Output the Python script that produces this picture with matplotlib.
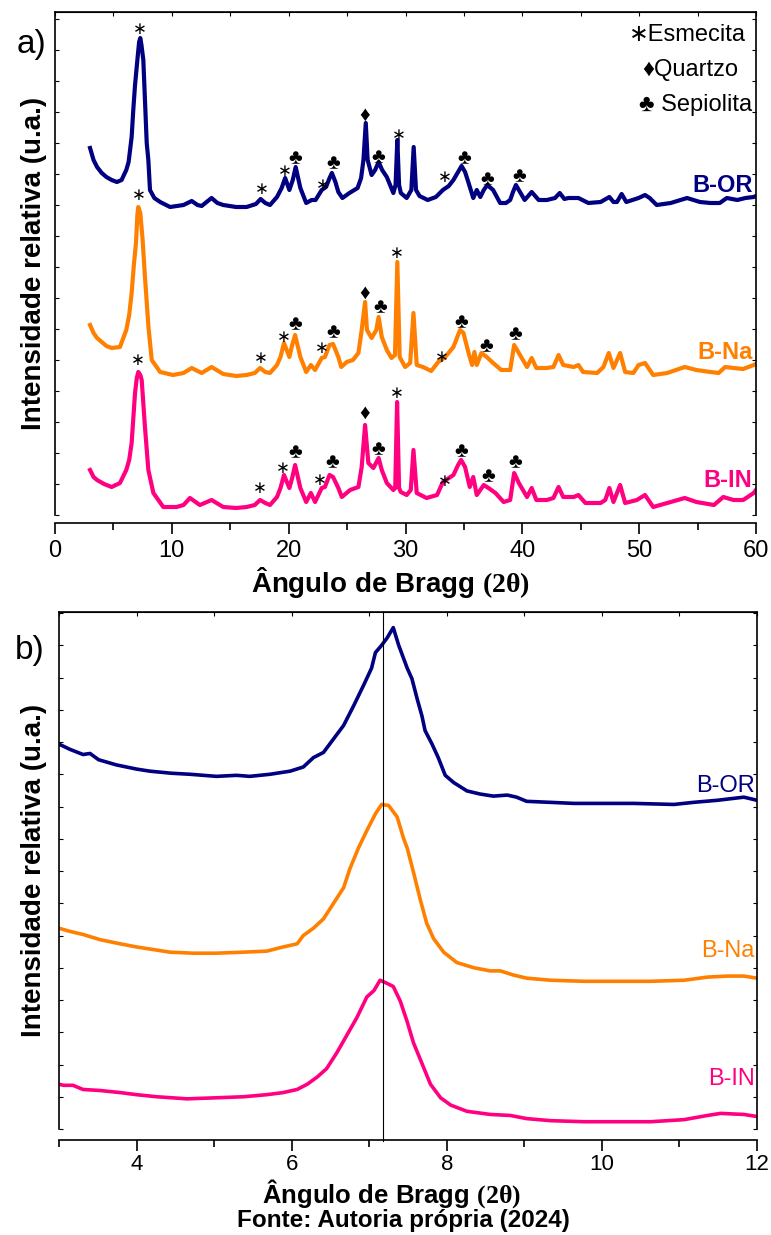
import matplotlib
matplotlib.use("Agg")
import matplotlib.pyplot as plt
from matplotlib.ticker import MultipleLocator

plt.rcParams['font.family'] = ['Liberation Sans', 'DejaVu Sans']
plt.rcParams['mathtext.fontset'] = 'custom'
plt.rcParams['mathtext.bf'] = 'Liberation Serif:bold'
plt.rcParams['mathtext.rm'] = 'Liberation Serif'

# ---------------- panel a) full scan, 3-60 deg ----------------
or_x = [3.0, 3.3, 3.6, 4.0, 4.4, 4.85, 5.3, 5.7, 6.1, 6.3, 6.56, 6.7, 6.85, 7.05, 7.2, 7.3, 7.4, 7.56, 7.7, 7.85,
        7.99, 8.13, 8.5, 9.0, 9.85, 11.0, 11.7, 12.2, 12.55, 13.4, 13.9, 14.4, 15.5, 16.4, 17.2, 17.6, 18.0, 18.4,
        19.0, 19.4, 19.7, 20.06, 20.35, 20.6, 21.0, 21.5, 21.97, 22.3, 22.83, 23.2, 23.5, 23.7, 24.0, 24.25, 24.6,
        25.2, 25.9, 26.2, 26.4, 26.6, 26.76, 27.1, 27.4, 27.7, 28.0, 28.4, 28.96, 29.15, 29.3, 29.45, 29.6, 30.1,
        30.5, 30.7, 30.9, 31.2, 31.9, 32.6, 33.2, 33.7, 34.1, 34.5, 34.8, 35.1, 35.4, 35.8, 36.1, 36.4, 36.7, 37.0,
        37.5, 38.1, 38.6, 38.96, 39.2, 39.45, 39.8, 40.2, 40.8, 41.4, 42.1, 42.8, 43.2, 43.6, 43.95, 44.8, 45.65,
        46.7, 47.45, 47.8, 48.1, 48.5, 48.9, 49.95, 50.5, 50.9, 51.5, 52.7, 54.1, 55.2, 56.1, 56.9, 57.5, 58.4,
        59.1, 59.8, 60.0]
or_y = [367, 355, 348, 342, 338, 335, 333, 335, 345, 353, 378, 405, 430, 455, 473, 477, 470, 455, 415, 372,
        355, 325, 317, 313, 308, 310, 314, 310, 309, 317, 312, 310, 308, 308, 311, 316, 312, 310,
        318, 327, 337, 325, 335, 348, 327, 312, 315, 315, 325, 328, 337, 342, 333, 323, 317,
        322, 327, 337, 355, 392, 355, 340, 345, 353, 345, 338, 322, 330, 375, 330, 322, 317,
        325, 368, 325, 319, 315, 318, 325, 329, 335, 343, 349, 343, 332, 317, 325, 318, 325, 330,
        325, 312, 312, 315, 323, 330, 323, 315, 323, 315, 315, 317, 322, 316, 317, 317, 312,
        313, 318, 313, 313, 321, 313, 317, 320, 317, 310, 312, 317, 313, 312, 312, 317, 315,
        317, 318, 319]

na_x = [3.0, 3.3, 3.6, 4.0, 4.4, 4.85, 5.56, 6.1, 6.35, 6.56, 6.75, 6.93, 7.05, 7.13, 7.3, 7.5, 7.7, 8.0, 8.28,
        9.0, 10.1, 11.0, 11.7, 12.55, 13.4, 14.4, 15.5, 16.4, 17.1, 17.55, 18.0, 18.4, 19.0, 19.3, 19.6, 20.06,
        20.3, 20.55, 21.0, 21.5, 21.9, 22.26, 22.83, 23.1, 23.5, 23.8, 24.25, 24.5, 24.97, 25.5, 25.97, 26.25,
        26.54, 26.7, 27.1, 27.5, 27.7, 27.97, 28.4, 28.8, 29.1, 29.3, 29.5, 29.97, 30.4, 30.68, 30.96, 31.5,
        32.2, 32.8, 33.4, 34.1, 34.4, 34.67, 34.96, 35.4, 35.7, 35.9, 36.1, 36.5, 36.95, 37.5, 38.2, 38.96,
        39.3, 39.7, 40.4, 40.8, 41.2, 42.1, 42.66, 43.1, 43.5, 44.4, 44.8, 45.2, 46.4, 46.94, 47.4, 47.8,
        48.37, 48.8, 49.5, 49.95, 50.5, 51.2, 52.4, 53.9, 54.9, 56.1, 56.8, 57.36, 58.07, 58.9, 59.8, 60.0]
na_y = [190, 182, 177, 173, 169, 167, 168, 185, 200, 222, 250, 272, 300, 308, 302, 275, 238, 188, 155,
        143, 140, 142, 147, 142, 148, 141, 139, 140, 142, 147, 143, 142, 150, 158, 172, 158,
        170, 180, 158, 143, 150, 145, 157, 158, 170, 171, 158, 148, 153, 155, 162, 185,
        213, 185, 177, 185, 198, 178, 165, 157, 160, 253, 158, 148, 152, 202, 150, 148,
        144, 153, 158, 168, 177, 185, 182, 162, 150, 163, 150, 162, 158, 152, 145, 145,
        170, 162, 148, 157, 147, 147, 148, 160, 150, 148, 150, 143, 142, 148, 162, 147,
        162, 143, 142, 150, 152, 140, 142, 148, 145, 143, 142, 148, 147, 146, 150, 151]

in_x = [3.0, 3.3, 3.6, 4.2, 4.85, 5.56, 6.1, 6.35, 6.56, 6.85, 7.0, 7.13, 7.3, 7.42, 7.7, 7.99, 8.42, 9.27,
        10.4, 11.0, 11.55, 12.4, 13.4, 14.4, 15.5, 16.4, 17.1, 17.55, 18.0, 18.4, 19.0, 19.3, 19.6, 20.06,
        20.3, 20.55, 21.0, 21.5, 21.9, 22.26, 22.83, 23.1, 23.5, 23.8, 24.25, 24.55, 25.26, 25.97, 26.25,
        26.54, 26.82, 27.25, 27.7, 27.97, 28.4, 28.96, 29.12, 29.28, 29.45, 29.6, 30.1, 30.45, 30.68, 30.96,
        31.8, 32.7, 33.2, 34.1, 34.5, 34.76, 35.1, 35.5, 35.8, 36.1, 36.7, 37.1, 37.7, 38.4, 38.96, 39.3,
        39.7, 40.4, 40.8, 41.2, 42.1, 42.66, 43.1, 43.5, 44.4, 44.8, 45.4, 46.7, 47.1, 47.45, 47.8, 48.37,
        48.8, 49.8, 50.5, 51.2, 52.4, 53.9, 54.9, 56.4, 57.2, 58.07, 58.9, 59.8, 60.0]
in_y = [45, 38, 35, 31, 28, 32, 45, 55, 72, 122, 137, 143, 140, 135, 88, 45, 22, 8,
        8, 10, 17, 10, 15, 8, 7, 8, 10, 15, 12, 10, 18, 27, 40, 27,
        37, 50, 27, 13, 22, 13, 27, 28, 40, 38, 27, 18, 25, 28, 48,
        90, 52, 47, 57, 45, 32, 25, 27, 113, 27, 23, 20, 25, 65, 22,
        17, 20, 33, 40, 50, 55, 48, 28, 38, 20, 30, 27, 22, 13, 15, 42,
        32, 18, 27, 15, 15, 17, 28, 18, 18, 20, 12, 12, 15, 27, 13, 30,
        12, 15, 20, 8, 12, 17, 13, 10, 18, 15, 15, 22, 25]

# phase labels over the peaks: e = esmecita, q = quartzo, s = sepiolita
or_mark_x = [7.28, 17.7, 19.7, 20.6, 22.9, 23.8, 26.5, 27.7, 29.4, 33.4, 35.0, 37.0, 39.7]
or_mark_y = [485, 325, 344, 356, 330, 351, 400, 357, 380, 338, 356, 335, 338]
na_mark_x = [7.19, 17.6, 19.6, 20.6, 22.8, 23.8, 26.5, 27.8, 29.3, 33.1, 34.8, 36.9, 39.4]
na_mark_y = [320, 157, 178, 190, 167, 182, 222, 207, 261, 158, 192, 168, 180]
in_mark_x = [7.08, 17.5, 19.5, 20.6, 22.7, 23.7, 26.5, 27.7, 29.3, 33.4, 34.8, 37.1, 39.4]
in_mark_y = [155, 27, 47, 62, 35, 52, 102, 65, 122, 34, 63, 38, 52]
mark_phase = ['e', 'e', 'e', 's', 'e', 's', 'q', 's', 'e', 'e', 's', 's', 's']

# ---------------- panel b) zoom 3-12 deg ----------------
bor_x = [3.0, 3.14, 3.31, 3.4, 3.51, 3.74, 4.0, 4.17, 4.45, 4.69, 5.03, 5.29, 5.46, 5.72, 5.98, 6.15, 6.28,
         6.41, 6.54, 6.67, 6.8, 6.93, 7.03, 7.08, 7.16, 7.23, 7.31, 7.38, 7.44, 7.49, 7.55, 7.62, 7.68, 7.72,
         7.81, 7.89, 7.98, 8.09, 8.26, 8.43, 8.6, 8.78, 8.9, 9.03, 9.34, 9.64, 9.98, 10.41, 10.93, 11.18,
         11.49, 11.83, 12.0]
bor_y = [370, 365, 360, 361, 355, 350, 346, 344, 342, 341, 339, 340, 339, 341, 344, 348, 357,
         362, 375, 388, 407, 427, 443, 458, 465, 472, 482, 465, 453, 443, 433, 413, 397, 383,
         370, 357, 340, 333, 325, 322, 320, 321, 319, 315, 314, 313, 313, 313, 312, 314,
         316, 319, 316]

bna_x = [3.0, 3.14, 3.31, 3.53, 3.79, 4.0, 4.26, 4.43, 4.73, 5.03, 5.38, 5.68, 5.89, 6.07, 6.15, 6.28, 6.41,
         6.54, 6.67, 6.75, 6.86, 6.97, 7.08, 7.16, 7.25, 7.36, 7.44, 7.49, 7.57, 7.66, 7.74, 7.83, 7.96, 8.13,
         8.35, 8.56, 8.69, 8.86, 9.03, 9.34, 9.77, 10.2, 10.63, 11.06, 11.36, 11.62, 11.83, 12.0]
bna_y = [193, 190, 187, 182, 178, 175, 172, 170, 169, 169, 170, 171, 175, 178, 186, 193, 202,
         217, 232, 250, 270, 287, 303, 312, 311, 300, 280, 270, 247, 220, 198, 183, 170, 160,
         155, 152, 152, 148, 145, 143, 142, 142, 142, 143, 146, 147, 147, 145]

bin_x = [3.0, 3.06, 3.18, 3.31, 3.53, 3.79, 4.0, 4.26, 4.65, 5.03, 5.38, 5.68, 5.89, 6.07, 6.2, 6.33, 6.45,
         6.58, 6.71, 6.84, 6.97, 7.06, 7.14, 7.23, 7.31, 7.4, 7.49, 7.57, 7.68, 7.79, 7.92, 8.05, 8.26, 8.56,
         8.82, 9.03, 9.34, 9.77, 10.2, 10.63, 11.06, 11.36, 11.53, 11.83, 12.0]
bin_y = [43, 42, 42, 38, 37, 35, 33, 31, 29, 30, 31, 33, 35, 38, 43, 50, 58,
         73, 90, 107, 127, 133, 143, 140, 137, 123, 103, 83, 63, 43, 30, 23, 17, 14,
         13, 10, 8, 7, 7, 7, 9, 13, 15, 14, 12]

d001 = 7.18  # reference line in b)

navy = "#000080"
orange = "#FF8000"
pink = "#FF0080"
symbols = {'e': '\u2217', 'q': '\u2666', 's': '\u2663'}
mark_size = {'e': 12, 'q': 15, 's': 15}
xlab = 'Ângulo de Bragg $\\mathbf{(2θ)}$'
ylab = 'Intensidade relativa (u.a.)'

fig = plt.figure(figsize=(7.71, 12.35), dpi=100)

# ---- a)
ax = fig.add_axes([55/771, 1-515/1235, 701/771, 503/1235])
ax.plot(or_x, or_y, color=navy, lw=3, solid_joinstyle='round')
ax.plot(na_x, na_y, color=orange, lw=3, solid_joinstyle='round')
ax.plot(in_x, in_y, color=pink, lw=3, solid_joinstyle='round')
for mx, my in [(or_mark_x, or_mark_y), (na_mark_x, na_mark_y), (in_mark_x, in_mark_y)]:
    for xx, yy, ph in zip(mx, my, mark_phase):
        ax.text(xx, yy, symbols[ph], ha='center', va='center', fontsize=mark_size[ph], color='k')
ax.text(59.7, 329, 'B-OR', color=navy, fontsize=17, fontweight='bold', ha='right', va='center')
ax.text(59.7, 163, 'B-Na', color=orange, fontsize=17, fontweight='bold', ha='right', va='center')
ax.text(59.7, 35, 'B-IN', color=pink, fontsize=17, fontweight='bold', ha='right', va='center')

leg = [symbols['e'] + 'Esmecita', symbols['q'] + 'Quartzo', symbols['s'] + ' Sepiolita']
leg_right = [0.985, 0.975, 0.995]
for i, t in enumerate(leg):
    ax.text(leg_right[i], 0.954 - i*0.069, t, transform=ax.transAxes, ha='right', va='center', fontsize=17)

ax.set_xlim(0, 60)
ax.set_ylim(0, 503)
ax.xaxis.set_major_locator(MultipleLocator(10))
ax.xaxis.set_minor_locator(MultipleLocator(5))
ax.yaxis.set_major_locator(MultipleLocator(31))
ax.tick_params(axis='x', which='major', direction='out', length=8, width=1.2, labelsize=17, pad=4)
ax.tick_params(axis='x', which='minor', direction='out', length=5, width=1.2)
ax.tick_params(axis='y', direction='in', length=3, left=True, right=True, labelleft=False)
ax.spines['bottom'].set_position(('outward', 6))
for s in ax.spines.values():
    s.set_linewidth(1.2)
top = ax.secondary_xaxis('top')
top.xaxis.set_major_locator(MultipleLocator(5))
top.tick_params(direction='in', length=3, labeltop=False)
ax.set_xlabel(xlab, fontsize=20, fontweight='bold')
ax.xaxis.set_label_coords(0.478, -0.10)
ax.set_ylabel(ylab, fontsize=20, fontweight='bold')
ax.yaxis.set_label_coords(-0.011, 0.5)

# ---- b)
ax2 = fig.add_axes([59/771, 1-1129/1235, 698/771, 517/1235])
ax2.plot(bor_x, bor_y, color=navy, lw=2.6)
ax2.plot(bna_x, bna_y, color=orange, lw=2.6)
ax2.plot(bin_x, bin_y, color=pink, lw=2.6)
ax2.axvline(d001, color='k', lw=0.8, ymin=-0.023, ymax=1, clip_on=False)
ax2.text(11.97, 330, 'B-OR', color=navy, fontsize=17, ha='right', va='center')
ax2.text(11.97, 171, 'B-Na', color=orange, fontsize=17, ha='right', va='center')
ax2.text(11.97, 48, 'B-IN', color=pink, fontsize=17, ha='right', va='center')
ax2.set_xlim(3, 12)
ax2.set_ylim(0, 497)
ax2.xaxis.set_major_locator(MultipleLocator(2))
ax2.xaxis.set_minor_locator(MultipleLocator(1))
ax2.yaxis.set_major_locator(MultipleLocator(31))
ax2.tick_params(axis='x', which='major', direction='out', length=8, width=1.2, labelsize=16, pad=2)
ax2.tick_params(axis='x', which='minor', direction='out', length=5, width=1.2)
ax2.tick_params(axis='y', direction='in', length=3, left=True, right=True, labelleft=False)
ax2.spines['bottom'].set_position(('outward', 8))
for s in ax2.spines.values():
    s.set_linewidth(1.2)
top2 = ax2.secondary_xaxis('top')
top2.xaxis.set_major_locator(MultipleLocator(1))
top2.tick_params(direction='in', length=3, labeltop=False)
ax2.set_xlabel(xlab, fontsize=18.5, fontweight='bold')
ax2.xaxis.set_label_coords(0.476, -0.093)
ax2.set_ylabel(ylab, fontsize=20, fontweight='bold')
ax2.yaxis.set_label_coords(-0.017, 0.5)

fig.text(32/771, 1-45/1235, 'a)', fontsize=24, ha='center', va='center')
fig.text(30/771, 1-650/1235, 'b)', fontsize=24, ha='center', va='center')
fig.text(403/771, 1-1221/1235, 'Fonte: Autoria própria (2024)', fontsize=17.5, fontweight='bold',
         ha='center', va='center')

fig.savefig('out.png', dpi=100)
